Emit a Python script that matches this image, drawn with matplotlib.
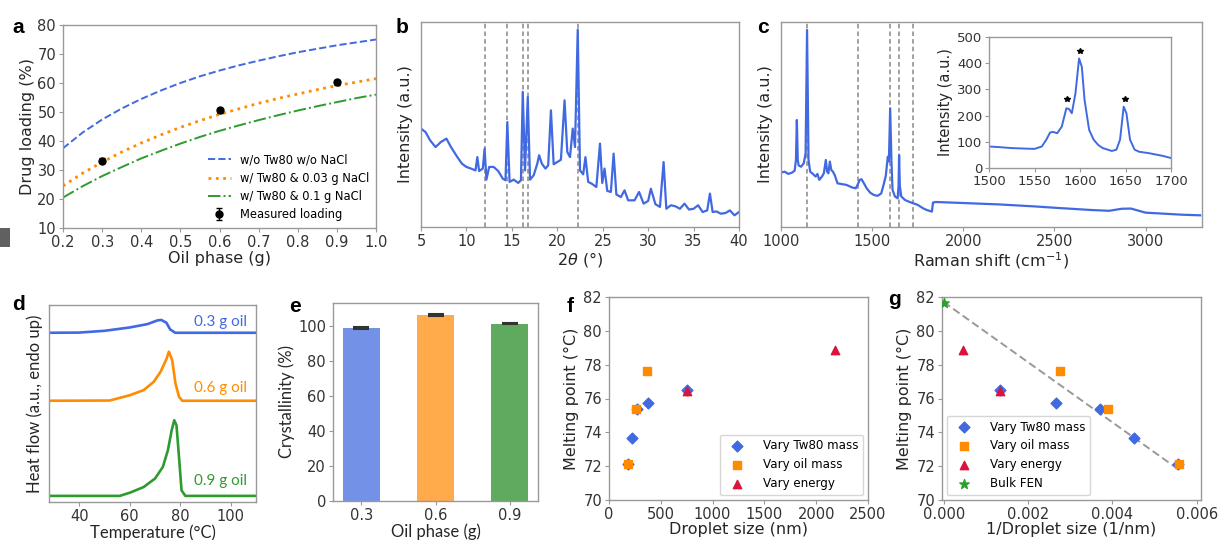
import matplotlib
matplotlib.use('Agg')
import matplotlib.pyplot as plt
from matplotlib.ticker import FormatStrFormatter, MultipleLocator
from matplotlib.patches import Rectangle

# ---------------- data ----------------
# (a) drug loading vs oil phase
oil_x = [0.2, 0.25, 0.3, 0.35, 0.4, 0.45, 0.5, 0.55, 0.6, 0.65, 0.7, 0.75, 0.8, 0.85, 0.9, 0.95, 1.0]
load_no_tw80 = [37.5, 42.9, 47.4, 51.2, 54.5, 57.4, 60.0, 62.3, 64.3, 66.1, 67.7, 69.2, 70.6, 71.8, 73.0, 74.0, 75.0]
load_nacl_003 = [24.5, 28.9, 32.7, 36.2, 39.3, 42.1, 44.7, 47.0, 49.2, 51.1, 53.0, 54.7, 56.2, 57.7, 59.1, 60.3, 61.5]
load_nacl_01 = [20.5, 24.4, 27.9, 31.0, 34.0, 36.6, 39.1, 41.4, 43.5, 45.4, 47.2, 48.9, 50.5, 52.0, 53.4, 54.8, 56.0]
meas_x = [0.3, 0.6, 0.9]
meas_y = [33.2, 50.6, 60.2]
meas_err = [0.8, 0.8, 0.8]
legend_a = ['w/o Tw80 w/o NaCl', 'w/ Tw80 & 0.03 g NaCl', 'w/ Tw80 & 0.1 g NaCl', 'Measured loading']

# (b) XRD pattern
xrd_2theta = [5.0, 5.5, 6.0, 6.6, 7.2, 7.8, 8.3, 9.0, 9.5, 10.0, 10.5, 11.0, 11.2, 11.4, 11.8, 12.0, 12.2,
              12.5, 13.0, 13.5, 14.0, 14.3, 14.5, 14.75, 15.2, 15.7, 16.0, 16.2, 16.45, 16.75, 17.0, 17.4,
              17.8, 18.0, 18.3, 18.7, 19.0, 19.3, 19.6, 20.0, 20.4, 20.8, 21.1, 21.4, 21.7, 21.95, 22.25,
              22.5, 22.85, 23.1, 23.4, 23.8, 24.3, 24.7, 24.95, 25.2, 25.5, 25.9, 26.2, 26.5, 27.0, 27.4,
              27.8, 28.5, 29.0, 29.5, 30.0, 30.3, 30.8, 31.3, 31.7, 32.0, 32.5, 33.0, 33.5, 34.0, 34.5,
              35.0, 35.5, 36.0, 36.5, 36.8, 37.1, 37.5, 38.0, 38.5, 39.0, 39.5, 40.0]
xrd_int = [48.0, 46.3, 42.3, 39.0, 41.5, 43.1, 39.0, 34.1, 30.9, 29.3, 28.5, 27.6, 34.1, 27.3, 28.5, 38.2, 23.1,
           29.3, 29.3, 27.3, 23.6, 22.8, 51.2, 22.0, 23.1, 21.5, 22.8, 65.9, 27.6, 63.4, 23.1, 25.2,
           30.9, 35.0, 30.9, 28.5, 30.1, 56.9, 30.6, 31.7, 32.8, 61.8, 36.6, 34.1, 48.0, 39.0, 96.3,
           27.6, 25.7, 34.1, 22.0, 21.1, 19.5, 40.7, 21.5, 28.5, 17.6, 17.1, 35.8, 15.9, 14.6, 17.9,
           13.0, 13.0, 17.1, 11.4, 12.7, 18.7, 11.1, 9.8, 31.7, 8.9, 10.6, 10.1, 8.9, 11.4, 8.5,
           8.9, 10.6, 7.3, 8.1, 16.3, 7.3, 7.6, 6.5, 6.8, 8.1, 5.7, 7.3]
xrd_ref_lines = [12.0, 14.5, 16.2, 16.75, 22.3]

# (c) Raman spectrum
raman_shift = [1000, 1020, 1040, 1060, 1075, 1082, 1087, 1092, 1097, 1110, 1125, 1135, 1143, 1151, 1160,
               1175, 1190, 1200, 1210, 1225, 1235, 1246, 1253, 1260, 1268, 1276, 1285, 1295, 1310, 1330,
               1360, 1390, 1410, 1420, 1432, 1442, 1455, 1470, 1490, 1510, 1530, 1550, 1565, 1575, 1586,
               1592, 1599, 1606, 1612, 1625, 1640, 1645, 1648, 1652, 1660, 1680, 1700, 1725, 1750, 1780,
               1800, 1828, 1834, 1850, 2000, 2200, 2400, 2500, 2700, 2800, 2870, 2920, 2960, 3000, 3100,
               3200, 3300]
raman_int = [26.5, 27.0, 25.9, 26.5, 27.5, 32.7, 52.2, 32.7, 30.0, 29.4, 31.1, 36.0, 96.1, 32.7, 27.0,
             25.9, 24.6, 25.9, 23.0, 24.6, 26.2, 32.7, 27.0, 26.2, 31.9, 27.8, 27.0, 25.3, 21.3, 21.0,
             20.5, 19.3, 18.9, 20.5, 23.0, 23.3, 21.3, 18.9, 16.7, 15.6, 15.2, 16.4, 21.3, 25.0, 34.3,
             32.0, 57.9, 32.0, 18.1, 14.9, 14.0, 20.0, 35.1, 20.0, 14.9, 13.2, 12.4, 11.6, 10.8, 9.1,
             8.3, 7.5, 11.9, 12.2, 11.7, 11.0, 10.0, 9.4, 8.3, 7.9, 8.9, 9.0, 8.0, 7.0, 6.5,
             6.0, 5.7]
raman_ref_lines = [1145, 1420, 1597, 1650, 1727]
inset_shift = [1500, 1510, 1525, 1540, 1550, 1558, 1563, 1567, 1570, 1575, 1580, 1585, 1588, 1591, 1595,
               1599, 1602, 1605, 1610, 1615, 1620, 1625, 1635, 1640, 1644, 1648, 1651, 1655, 1660, 1665,
               1675, 1690, 1700]
inset_int = [82, 80, 76, 74, 73, 82, 108, 135, 138, 133, 158, 228, 225, 209, 285,
             418, 386, 260, 146, 108, 88, 76, 65, 70, 108, 234, 209, 108, 70, 62,
             57, 47, 38]
star_x = [1586, 1600, 1649]
star_y = [262, 445, 265]

# (d) DSC thermograms
dsc_T_03 = [28, 40, 50, 60, 67, 71, 72.5, 74.5, 76, 78, 110]
dsc_h_03 = [85.9, 86.0, 86.9, 88.6, 90.3, 92.2, 92.4, 91.0, 87.6, 85.9, 85.9]
dsc_T_06 = [28, 52, 60, 65.5, 69.5, 72.2, 74.5, 75.5, 76.8, 78.1, 79.5, 80.8, 110]
dsc_h_06 = [51.4, 51.5, 54.2, 56.8, 61.0, 66.1, 72.5, 76.3, 72.0, 60.2, 53.4, 51.4, 51.4]
dsc_T_09 = [28, 56, 60, 65.5, 70, 73.1, 75.1, 76.6, 77.6, 78.5, 79.6, 80.5, 82, 110]
dsc_h_09 = [3.1, 3.1, 4.7, 7.6, 11.9, 17.8, 26.3, 36.4, 41.5, 39.0, 21.2, 5.9, 3.1, 3.1]
dsc_labels = ['0.3 g oil', '0.6 g oil', '0.9 g oil']

# (e) crystallinity
oil_labels = ['0.3', '0.6', '0.9']
crystallinity = [98.7, 106.4, 101.3]
cryst_err = [0.5, 0.6, 0.4]

# (f, g) melting point vs droplet size
tw80_size = [180, 222, 270, 375, 750]
tw80_mp = [72.1, 73.65, 75.35, 75.75, 76.5]
oil_size = [179, 256, 364]
oil_mp = [72.1, 75.4, 77.65]
energy_size = [755, 2180]
energy_mp = [76.45, 78.85]
bulk_inv = [0.0]
bulk_mp = [81.64]
fit_inv = [0.0, 0.00557]
fit_mp = [81.7, 71.8]
legend_fg = ['Vary Tw80 mass', 'Vary oil mass', 'Vary energy', 'Bulk FEN']

# ---------------- style ----------------
plt.rcParams['font.family'] = ['DejaVu Sans']
plt.rcParams['axes.edgecolor'] = '#999999'
plt.rcParams['axes.linewidth'] = 1.0
plt.rcParams['xtick.color'] = '#999999'
plt.rcParams['ytick.color'] = '#999999'
plt.rcParams['xtick.labelcolor'] = '#333333'
plt.rcParams['ytick.labelcolor'] = '#333333'
plt.rcParams['xtick.labelsize'] = 10.5
plt.rcParams['ytick.labelsize'] = 10.5
plt.rcParams['axes.labelsize'] = 11.5
plt.rcParams['axes.labelcolor'] = '#262626'
plt.rcParams['xtick.major.size'] = 3
plt.rcParams['ytick.major.size'] = 3
plt.rcParams['xtick.major.pad'] = 2
plt.rcParams['ytick.major.pad'] = 2

BLUE = '#4169E1'
ORANGE = '#FF8C00'
GREEN = '#2E9B2E'
RED = '#DC143C'
CAL = ['Lato', 'DejaVu Sans']

W, H = 1218, 540
fig = plt.figure(figsize=(W / 100, H / 100), dpi=100)


def ax_px(l, t, r, b):
    return fig.add_axes([l / W, 1 - b / H, (r - l) / W, (b - t) / H])


def letter(x, y, s):
    fig.text(x / W, 1 - y / H, s, fontsize=15, fontweight='bold', family=['Liberation Sans', 'DejaVu Sans'],
             va='baseline', ha='left', color='black')


fig.patches.append(Rectangle((0, 1 - 247 / H), 10 / W, 19 / H, transform=fig.transFigure,
                             facecolor='#606060', edgecolor='none'))

# (a)
ax = ax_px(63, 25, 376, 228)
ax.plot(oil_x, load_no_tw80, '--', color=BLUE, lw=1.4, label=legend_a[0])
ax.plot(oil_x, load_nacl_003, ':', color=ORANGE, lw=2.0, label=legend_a[1])
ax.plot(oil_x, load_nacl_01, '-.', color=GREEN, lw=1.4, label=legend_a[2])
ax.errorbar(meas_x, meas_y, yerr=meas_err, fmt='o', color='black', ms=5, capsize=2, lw=1, label=legend_a[3])
ax.set_xlim(0.2, 1.0)
ax.set_ylim(10, 80)
ax.xaxis.set_major_locator(MultipleLocator(0.1))
ax.yaxis.set_major_locator(MultipleLocator(10))
ax.set_xlabel('Oil phase (g)', labelpad=1)
ax.set_ylabel('Drug loading (%)', labelpad=2)
ax.legend(loc='lower right', frameon=False, fontsize=8.3, handlelength=2.0, borderaxespad=0.2,
          labelspacing=0.45)
letter(12, 33, 'a')

# (b)
ax = ax_px(421, 22, 739, 227)
for xv in xrd_ref_lines:
    ax.axvline(xv, color='#888888', ls=(0, (3, 2)), lw=1.1, zorder=1)
ax.plot(xrd_2theta, xrd_int, color=BLUE, lw=1.6, zorder=2)
ax.set_xlim(5, 40)
ax.set_ylim(0, 100)
ax.set_yticks([])
ax.xaxis.set_major_locator(MultipleLocator(5))
ax.set_xlabel(r'2$\theta$ (°)', labelpad=1)
ax.set_ylabel('Intensity (a.u.)', labelpad=6)
letter(396, 33, 'b')

# (c)
ax = ax_px(781, 22, 1202, 227)
for xv in raman_ref_lines:
    ax.axvline(xv, color='#888888', ls=(0, (3, 2)), lw=1.1, zorder=1)
ax.plot(raman_shift, raman_int, color=BLUE, lw=1.6, zorder=2)
ax.set_xlim(1000, 3310)
ax.set_ylim(0, 100)
ax.set_yticks([])
ax.set_xticks([1000, 1500, 2000, 2500, 3000])
ax.set_xlabel('Raman shift (cm$^{-1}$)', labelpad=1)
ax.set_ylabel('Intensity (a.u.)', labelpad=6)
letter(757, 33, 'c')

ins = ax_px(989, 37, 1171, 168)
ins.plot(inset_shift, inset_int, color=BLUE, lw=1.4)
ins.plot(star_x, star_y, '*', color='black', ms=4, ls='none')
ins.set_xlim(1500, 1700)
ins.set_ylim(0, 500)
ins.set_xticks([1500, 1550, 1600, 1650, 1700])
ins.set_yticks([0, 100, 200, 300, 400, 500])
ins.tick_params(labelsize=9.5)
ins.set_ylabel('Intensity (a.u.)', fontsize=10.5, labelpad=3)

# (d)
ax = ax_px(49, 305, 256, 502)
cols = [BLUE, ORANGE, GREEN]
for T, h, c, lab, ly in zip([dsc_T_03, dsc_T_06, dsc_T_09], [dsc_h_03, dsc_h_06, dsc_h_09], cols, dsc_labels,
                            [91.2, 58.0, 10.5]):
    ax.plot(T, h, color=c, lw=1.9)
    ax.text(106.6, ly, lab, color=c, fontsize=11, family=CAL, ha='right', va='center')
ax.set_xlim(28, 110)
ax.set_ylim(0, 100)
ax.set_yticks([])
ax.set_xticks([40, 60, 80, 100])
ax.set_xlabel('Temperature (°C)', family=CAL, fontsize=12, labelpad=0)
ax.set_ylabel('Heat flow (a.u., endo up)', family=CAL, fontsize=12, labelpad=4)
letter(12, 310, 'd')

# (e)
ax = ax_px(333, 303, 538, 501)
ax.bar(oil_labels, crystallinity, width=0.5, color=['#7391E6', '#FFAA4B', '#5FAA5F'],
       yerr=cryst_err, capsize=6, error_kw=dict(ecolor='#333333', lw=1.2, capthick=1.5))
ax.set_xlim(-0.38, 2.38)
ax.set_ylim(0, 113)
ax.yaxis.set_major_locator(MultipleLocator(20))
ax.set_xlabel('Oil phase (g)', family=CAL, fontsize=12, labelpad=0)
ax.set_ylabel('Crystallinity (%)', family=CAL, fontsize=12, labelpad=2)
letter(289, 312, 'e')

# (f)
ax = ax_px(609, 297, 868, 500)
ax.scatter(tw80_size, tw80_mp, marker='D', s=30, color=BLUE, label=legend_fg[0], zorder=3)
ax.scatter(oil_size, oil_mp, marker='s', s=30, color=ORANGE, label=legend_fg[1], zorder=3)
ax.scatter(energy_size, energy_mp, marker='^', s=36, color=RED, label=legend_fg[2], zorder=3)
ax.set_xlim(0, 2500)
ax.set_ylim(70, 82)
ax.xaxis.set_major_locator(MultipleLocator(500))
ax.yaxis.set_major_locator(MultipleLocator(2))
ax.set_xlabel('Droplet size (nm)', labelpad=0)
ax.set_ylabel('Melting point (°C)', labelpad=3)
ax.legend(loc='lower right', fontsize=8.6, borderaxespad=0.4, handletextpad=1.2, edgecolor='#cccccc')
letter(567, 312, 'f')

# (g)
ax = ax_px(942, 297, 1201, 500)
ax.plot(fit_inv, fit_mp, ls=(0, (4, 2)), color='#999999', lw=1.4, zorder=2)
ax.scatter([1.0 / v for v in tw80_size], tw80_mp, marker='D', s=30, color=BLUE, label=legend_fg[0], zorder=3)
ax.scatter([1.0 / v for v in oil_size], oil_mp, marker='s', s=30, color=ORANGE, label=legend_fg[1], zorder=3)
ax.scatter([1.0 / v for v in energy_size], energy_mp, marker='^', s=36, color=RED, label=legend_fg[2], zorder=3)
ax.scatter(bulk_inv, bulk_mp, marker='*', s=50, color='#2ca02c', label=legend_fg[3], zorder=3)
ax.set_xlim(-0.00004, 0.0061)
ax.set_ylim(70, 82)
ax.set_xticks([0.0, 0.002, 0.004, 0.006])
ax.xaxis.set_major_formatter(FormatStrFormatter('%.3f'))
ax.yaxis.set_major_locator(MultipleLocator(2))
ax.set_xlabel('1/Droplet size (1/nm)', labelpad=0)
ax.set_ylabel('Melting point (°C)', labelpad=3)
ax.legend(loc='lower left', fontsize=8.6, borderaxespad=0.4, handletextpad=1.2, edgecolor='#cccccc')
letter(888, 305, 'g')

fig.savefig('out.png', dpi=100)
